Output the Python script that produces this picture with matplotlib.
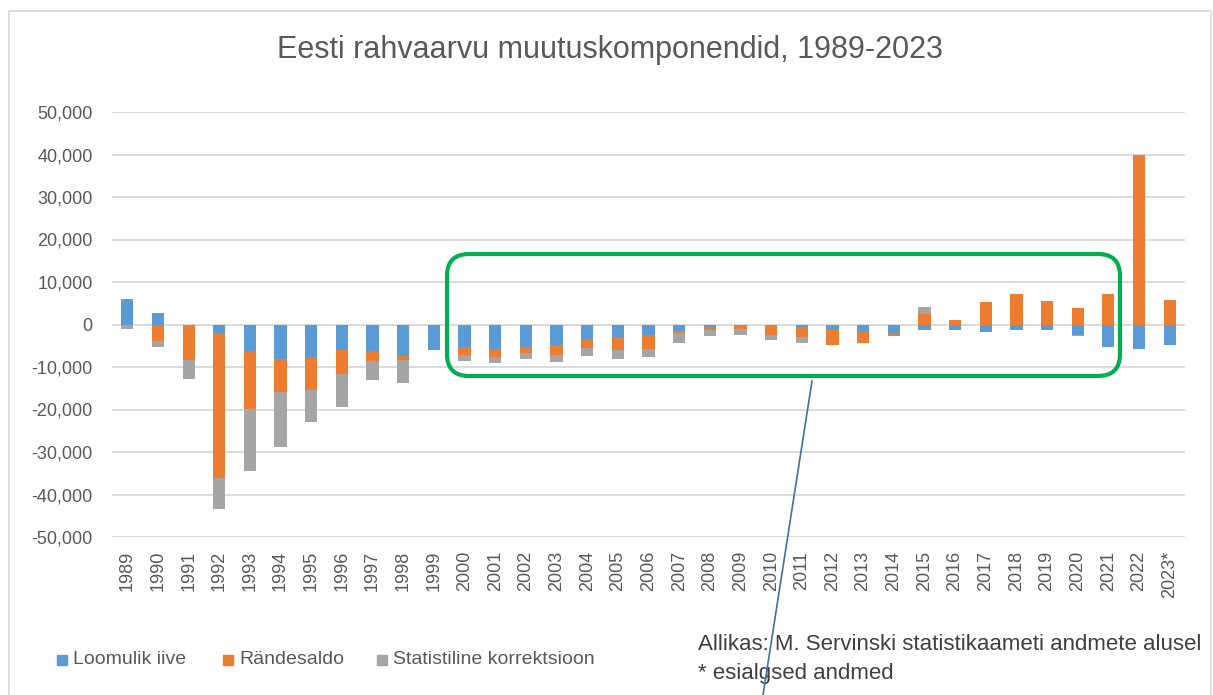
import matplotlib
matplotlib.use("Agg")
import matplotlib.pyplot as plt
from matplotlib.patches import FancyBboxPatch, Rectangle
from matplotlib.lines import Line2D
import numpy as np

years = [str(y) for y in range(1989, 2023)] + ["2023*"]

loomulik_iive = [5700, 2600, 0, -2100, -6200, -8200, -7600, -5900, -6200, -7300,
                 -5900, -5300, -5700, -5300, -4900, -3500, -3000, -2400, -1600, -500,
                 -100, 0, -500, -1400, -1600, -2100, -1300, -1300, -1800, -1300,
                 -1300, -2500, -5200, -5700, -4900]
randesaldo = [300, -3900, -8400, -34100, -13700, -7600, -7900, -5800, -2400, -1100,
              0, -1800, -2000, -1500, -2300, -2000, -3000, -3400, -500, -900,
              -1000, -2400, -2500, -3500, -2700, -600, 2500, 1100, 5300, 7200,
              5600, 3900, 7200, 39800, 5800]
korrektsioon = [-1000, -1400, -4500, -7300, -14600, -13100, -7500, -7700, -4400, -5400,
                0, -1400, -1300, -1400, -1600, -1800, -2200, -1800, -2200, -1300,
                -1400, -1200, -1300, 0, 0, 0, 1700, 0, 0, 0,
                0, -200, 0, 0, 0]

series = [
    ("Loomulik iive", loomulik_iive, "#5B9BD5"),
    ("Rändesaldo", randesaldo, "#ED7D31"),
    ("Statistiline korrektsioon", korrektsioon, "#A5A5A5"),
]

W, H = 1213, 695
fig = plt.figure(figsize=(W / 100, H / 100), dpi=100)
plt.rcParams["font.family"] = ["Liberation Sans", "DejaVu Sans"]
txt = "#595959"

ax = fig.add_axes([112 / W, (H - 537) / H, 1073 / W, 425 / H])
x = np.arange(len(years))
pos_base = np.zeros(len(years))
neg_base = np.zeros(len(years))
for name, vals, col in series:
    v = np.array(vals, dtype=float)
    bottom = np.where(v >= 0, pos_base, neg_base)
    ax.bar(x, v, 0.4, bottom=bottom, color=col, label=name, zorder=3)
    pos_base += np.where(v >= 0, v, 0)
    neg_base += np.where(v < 0, v, 0)

ax.set_xlim(-0.5, len(years) - 0.5)
ax.set_ylim(-50000, 50000)
ax.set_yticks(np.arange(-50000, 50001, 10000))
ax.set_yticklabels([f"{t:,}" for t in range(-50000, 50001, 10000)])
ax.set_xticks(x)
ax.set_xticklabels(years, rotation=90)
ax.grid(axis="y", color="#D9D9D9", lw=1.3, zorder=0)
ax.tick_params(axis="y", length=0, pad=14, labelsize=13, labelcolor=txt)
ax.tick_params(axis="x", length=0, pad=10, labelsize=13, labelcolor=txt)
for s in ax.spines.values():
    s.set_visible(False)

fig.text(610 / W, 1 - 50 / H, "Eesti rahvaarvu muutuskomponendid, 1989-2023",
         ha="center", va="center", fontsize=22, color=txt)

# legend drawn by hand at the reference positions (pixels)
fr = fig.dpi_scale_trans
leg_x = [57, 223, 377]
for (name, _, col), lx in zip(series, leg_x):
    fig.add_artist(Rectangle((lx / 100, (H - 665) / 100), 0.10, 0.10,
                             transform=fr, color=col))
    fig.text((lx + 16) / W, 1 - 660 / H, name, ha="left", va="center",
             fontsize=14, color=txt)

fig.text(698 / W, 1 - 645 / H, "Allikas: M. Servinski statistikaameti andmete alusel",
         ha="left", va="center", fontsize=16, color="#404040")
fig.text(698 / W, 1 - 673 / H, "* esialgsed andmed",
         ha="left", va="center", fontsize=16, color="#404040")

# chart frame (left, top, right)
fig.add_artist(Line2D([0.085, 0.085, 12.11, 12.11], [0, 6.84, 6.84, 0],
                      transform=fr, color="#D9D9D9", lw=1.2))

# highlight box and pointer line
box = FancyBboxPatch((4.67, 3.39), 6.33, 0.82,
                     boxstyle="round,pad=0.2,rounding_size=0.22",
                     transform=fr, fill=False, ec="#00B050", lw=3.0, zorder=5)
fig.add_artist(box)
fig.add_artist(Line2D([8.12, 7.63], [3.14, 0.0], transform=fr,
                      color="#41719C", lw=1.2, zorder=5))

fig.savefig("out.png", dpi=100)
